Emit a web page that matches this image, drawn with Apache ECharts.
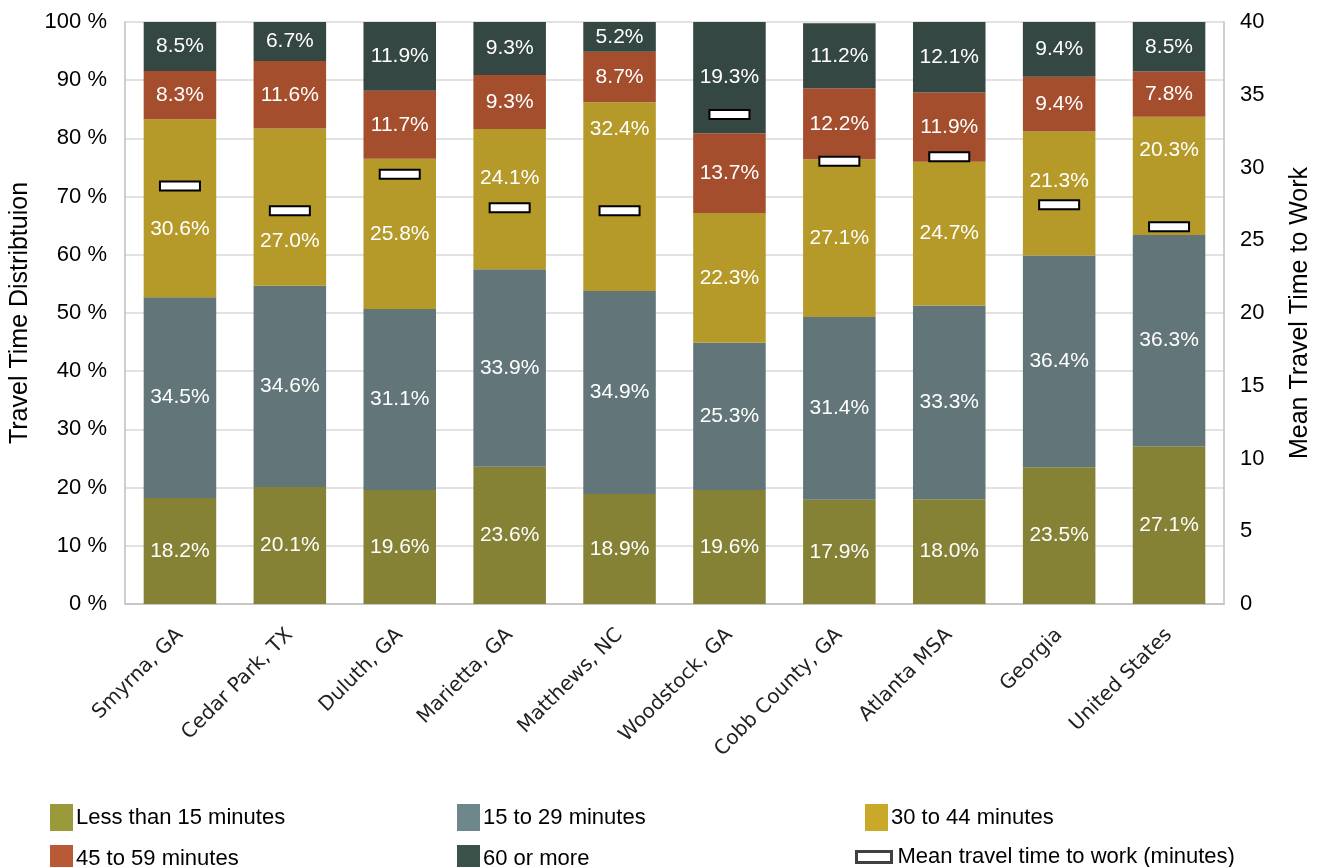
<!DOCTYPE html>
<html>
<head>
<meta charset="utf-8">
<script src="https://cdn.jsdelivr.net/npm/echarts@6/dist/echarts.min.js"></script>
<style>
  html, body { margin: 0; padding: 0; background: #fff; }
  #chart { width: 1323px; height: 867px; }
</style>
</head>
<body>
<div id="chart"></div>
<script>
// categories
var places = ['Smyrna, GA', 'Cedar Park, TX', 'Duluth, GA', 'Marietta, GA', 'Matthews, NC',
    'Woodstock, GA', 'Cobb County, GA', 'Atlanta MSA', 'Georgia', 'United States'];

// share of commuters per travel-time band (%)
var under15 = [18.2, 20.1, 19.6, 23.6, 18.9, 19.6, 17.9, 18.0, 23.5, 27.1];
var from15to29 = [34.5, 34.6, 31.1, 33.9, 34.9, 25.3, 31.4, 33.3, 36.4, 36.3];
var from30to44 = [30.6, 27.0, 25.8, 24.1, 32.4, 22.3, 27.1, 24.7, 21.3, 20.3];
var from45to59 = [8.3, 11.6, 11.7, 9.3, 8.7, 13.7, 12.2, 11.9, 9.4, 7.8];
var over60 = [8.5, 6.7, 11.9, 9.3, 5.2, 19.3, 11.2, 12.1, 9.4, 8.5];

// mean travel time (minutes)
var meanTime = [28.7, 27.0, 29.5, 27.2, 27.0, 33.6, 30.4, 30.7, 27.4, 25.9];

var leftTicks = ['0 %', '10 %', '20 %', '30 %', '40 %', '50 %', '60 %', '70 %', '80 %', '90 %', '100 %'];

var seriesNames = ['Less than 15 minutes', '15 to 29 minutes', '30 to 44 minutes', '45 to 59 minutes', '60 or more'];
var meanName = 'Mean travel time to work (minutes)';

// styling
var barColors = ['#858236', '#62767A', '#B59A29', '#A44E2E', '#344742'];
var legendColors = ['#9A9A3A', '#6E878A', '#C9A927', '#B85A35', '#3A524A'];
var font = 'Liberation Sans, Arial, sans-serif';
var catFont = 'DejaVu Sans, sans-serif';
// hand-moved labels in the 30-44 band so they clear the mean marker
var goldShift = { 0: 21, 1: 34, 3: -21, 4: -67, 8: -12, 9: -26 };

var bands = [under15, from15to29, from30to44, from45to59, over60];

var barSeries = bands.map(function (vals, k) {
    return {
        name: seriesNames[k],
        type: 'bar',
        stack: 'dist',
        barWidth: '66%',
        itemStyle: { color: barColors[k] },
        label: {
            show: true,
            position: 'inside',
            color: '#fff',
            fontFamily: font,
            fontSize: 21,
            formatter: function (p) { return p.value.toFixed(1) + '%'; }
        },
        data: vals.map(function (v, i) {
            if (k === 2 && goldShift[i] !== undefined) {
                return { value: v, label: { offset: [0, goldShift[i]] } };
            }
            return v;
        })
    };
});

// mean marker: small white box with black outline, placed on the right axis
var meanSeries = {
    name: meanName,
    type: 'custom',
    yAxisIndex: 1,
    z: 10,
    renderItem: function (params, api) {
        var pt = api.coord([api.value(0), api.value(1)]);
        return {
            type: 'rect',
            shape: { x: pt[0] - 20, y: pt[1] - 5, width: 40, height: 9 },
            style: { fill: '#fff', stroke: '#000', lineWidth: 2 }
        };
    },
    data: meanTime.map(function (v, i) { return [i, v]; })
};

var legendText = { fontFamily: font, fontSize: 22, color: '#000', padding: [0, 0, 0, -2] };

// one legend block per entry so they sit on the reference's 3 x 2 layout
var legendSpots = [[45, 799], [452, 799], [860, 799], [45, 840], [452, 840]];

var legends = seriesNames.map(function (n, k) {
    return {
        left: legendSpots[k][0], top: legendSpots[k][1],
        itemWidth: 23, itemHeight: 27, icon: 'rect',
        textStyle: legendText,
        data: [{ name: n, itemStyle: { color: legendColors[k] } }]
    };
});
legends.push({
    left: 850, top: 841, itemWidth: 35, itemHeight: 11, icon: 'rect',
    textStyle: { fontFamily: font, fontSize: 22, color: '#000', padding: [0, 0, 0, 1] },
    data: [{ name: meanName, itemStyle: { color: '#fff', borderColor: '#404040', borderWidth: 3 } }]
});

var option = {
    backgroundColor: '#fff',
    animation: false,
    grid: { left: 125, right: 99, top: 22, bottom: 263, outerBoundsMode: 'none', containLabel: false },
    legend: legends,
    xAxis: {
        type: 'category',
        data: places,
        axisLine: { show: true, lineStyle: { color: '#bfbfbf', width: 1.5 } },
        axisTick: { show: false },
        axisLabel: {
            rotate: 45, interval: 0, margin: 28,
            color: '#222', fontFamily: catFont, fontSize: 20
        }
    },
    yAxis: [
        {
            type: 'value', min: 0, max: 100, interval: 10,
            name: 'Travel Time Distribtuion',
            nameLocation: 'middle', nameGap: 92, nameRotate: 90,
            nameTextStyle: { fontFamily: font, fontSize: 25, color: '#000' },
            axisLine: { show: true, lineStyle: { color: '#bfbfbf', width: 1.5 } },
            axisTick: { show: false },
            splitLine: { lineStyle: { color: '#d9d9d9', width: 1.5 } },
            axisLabel: {
                color: '#000', fontFamily: font, fontSize: 22, margin: 18,
                formatter: function (v) { return leftTicks[v / 10]; }
            }
        },
        {
            type: 'value', min: 0, max: 40, interval: 5,
            name: 'Mean Travel Time to Work',
            nameLocation: 'middle', nameGap: 64, nameRotate: 90,
            nameTextStyle: { fontFamily: font, fontSize: 25, color: '#000' },
            axisLine: { show: true, lineStyle: { color: '#bfbfbf', width: 1.5 } },
            axisTick: { show: false },
            splitLine: { show: false },
            axisLabel: { color: '#000', fontFamily: font, fontSize: 22, margin: 16 }
        }
    ],
    series: barSeries.concat([meanSeries])
};

var chart = echarts.init(document.getElementById('chart'));
chart.setOption(option);
</script>
</body>
</html>
